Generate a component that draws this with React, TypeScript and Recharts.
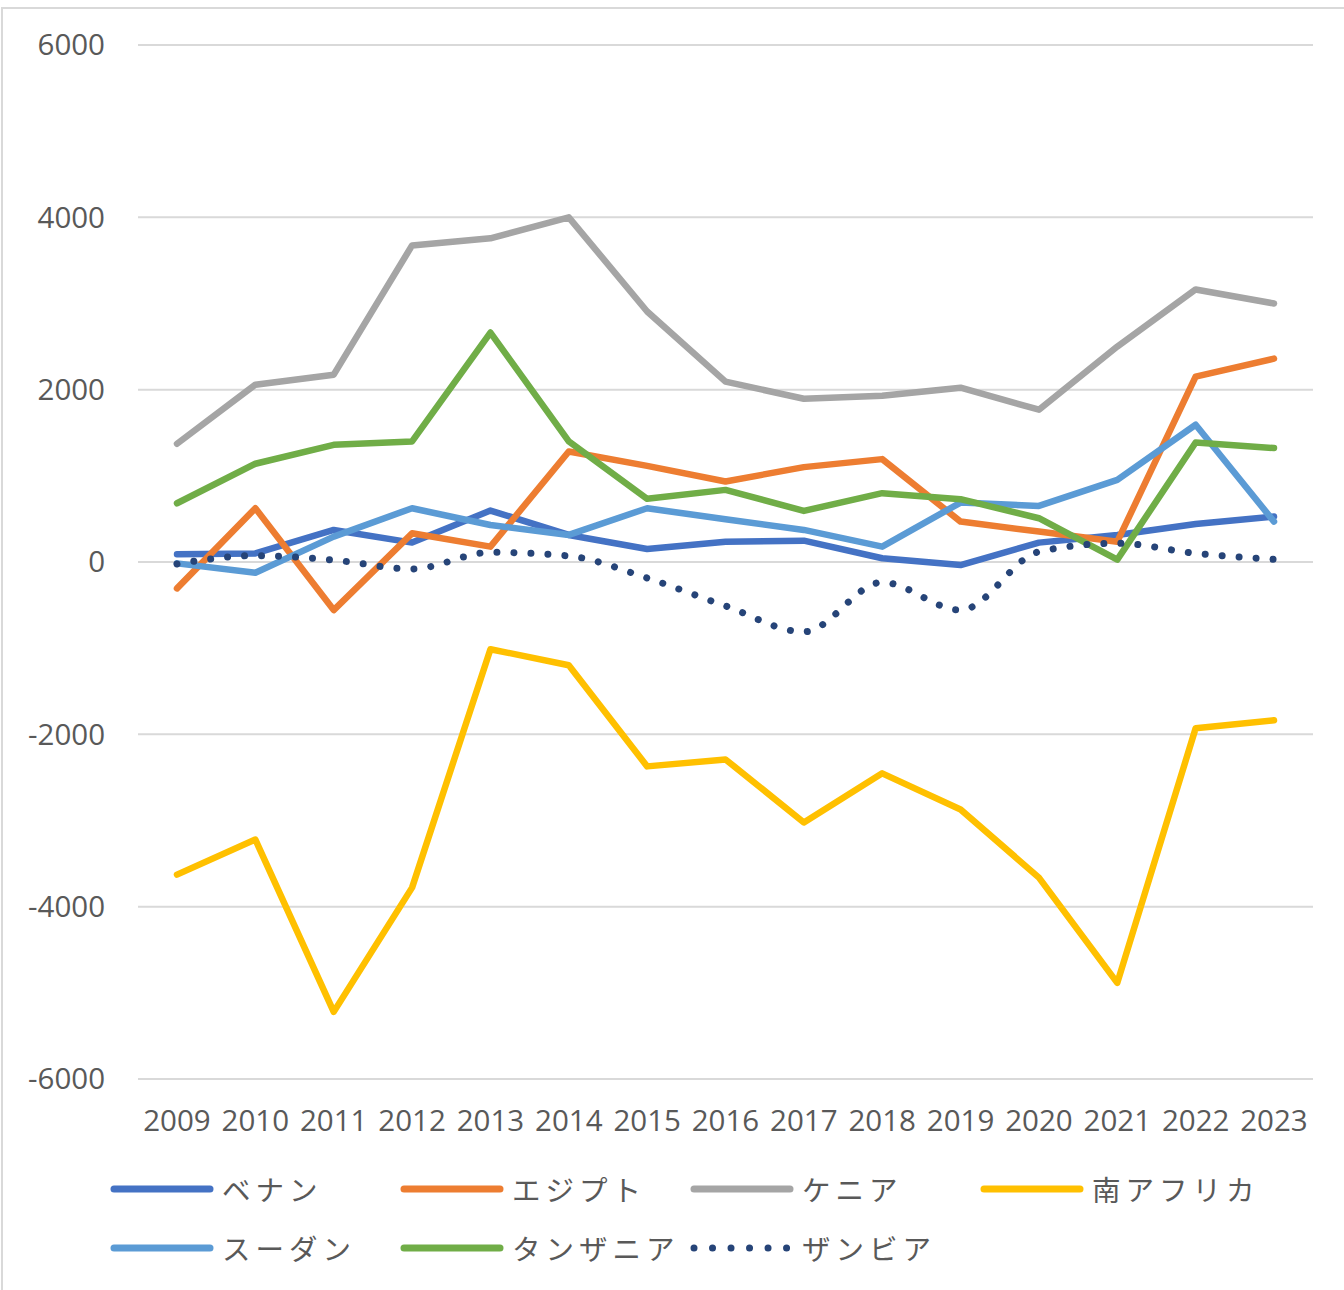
import React from 'react';
import { LineChart, Line, XAxis, YAxis, CartesianGrid, Legend } from 'recharts';

const years = ['2009','2010','2011','2012','2013','2014','2015','2016','2017','2018','2019','2020','2021','2022','2023'];
const benin = [90, 100, 372, 225, 597, 314, 151, 236, 248, 43, -35, 225, 314, 442, 527];
const egypt = [-306, 624, -558, 333, 178, 1283, 1116, 934, 1101, 1194, 469, 353, 236, 2151, 2360];
const kenya = [1372, 2058, 2174, 3674, 3756, 4000, 2907, 2093, 1895, 1930, 2023, 1767, 2500, 3163, 3000];
const southAfrica = [-3628, -3221, -5221, -3779, -1012, -1198, -2372, -2291, -3023, -2453, -2872, -3663, -4884, -1930, -1837];
const sudan = [-16, -124, 295, 624, 430, 314, 624, 496, 372, 178, 690, 651, 953, 1593, 469];
const tanzania = [682, 1140, 1360, 1399, 2663, 1399, 733, 837, 593, 799, 729, 508, 27, 1387, 1322];
const zambia = [-23, 74, 23, -81, 112, 70, -186, -510, -810, -236, -558, 120, 217, 101, 31];
const yTicks = [-6000, -4000, -2000, 0, 2000, 4000, 6000];

const seriesNames = ['ベナン', 'エジプト', 'ケニア', '南アフリカ', 'スーダン', 'タンザニア', 'ザンビア'];
const seriesKeys = ['benin', 'egypt', 'kenya', 'southAfrica', 'sudan', 'tanzania', 'zambia'];
const seriesColors = ['#4472C4', '#ED7D31', '#A5A5A5', '#FFC000', '#5B9BD5', '#70AD47', '#264478'];

const data = years.map((y, i) => ({
  year: y,
  benin: benin[i],
  egypt: egypt[i],
  kenya: kenya[i],
  southAfrica: southAfrica[i],
  sudan: sudan[i],
  tanzania: tanzania[i],
  zambia: zambia[i],
}));

const FONT_NUM = '"Open Sans", "Noto Sans", sans-serif';
const FONT_JP = '"Noto Sans CJK JP", "Noto Sans", sans-serif';
const TEXT = '#595959';

const legendCols = [110, 400, 690, 980];
const legendRows = [1189, 1248];

function LegendContent() {
  return (
    <div style={{ position: 'relative', width: 1344, height: 130 }}>
      {seriesNames.map((name, i) => {
        const col = i < 4 ? i : i - 4;
        const row = i < 4 ? 0 : 1;
        const left = legendCols[col];
        const top = legendRows[row] - 1160;
        const dotted = seriesKeys[i] === 'zambia';
        return (
          <div key={name} style={{ position: 'absolute', left, top: top - 20, height: 40, display: 'flex', alignItems: 'center' }}>
            <svg width={104} height={12} style={{ display: 'block' }}>
              {dotted ? (
                <line x1={4} y1={6} x2={100} y2={6} stroke={seriesColors[i]} strokeWidth={7} strokeLinecap="round" strokeDasharray="0.01 18.5" />
              ) : (
                <line x1={4} y1={6} x2={100} y2={6} stroke={seriesColors[i]} strokeWidth={7} strokeLinecap="round" />
              )}
            </svg>
            <span style={{ marginLeft: 8, fontFamily: FONT_JP, fontSize: 28.5, color: TEXT, letterSpacing: 5, lineHeight: '40px', whiteSpace: 'nowrap' }}>{name}</span>
          </div>
        );
      })}
    </div>
  );
}

export default function App() {
  return (
    <div style={{ position: 'absolute', left: 0, top: 0, width: 1344, height: 1290, background: '#fff', overflow: 'hidden' }}>
      <div style={{ position: 'absolute', left: 1, top: 7, width: 1400, height: 1400, borderTop: '2px solid #D9D9D9', borderLeft: '2px solid #D9D9D9' }} />
      <LineChart
        width={1344}
        height={1290}
        data={data}
        margin={{ top: 45, right: 31, left: 0, bottom: 151 }}
        style={{ position: 'absolute', left: 0, top: 0 }}
      >
        <CartesianGrid vertical={false} stroke="#D9D9D9" strokeWidth={2} />
        <XAxis
          dataKey="year"
          axisLine={false}
          tickLine={false}
          tickSize={0}
          tickMargin={31}
          height={60}
          interval={0}
          padding={{ left: 39, right: 39 }}
          tick={{ fontFamily: FONT_NUM, fontSize: 29.5, fill: TEXT }}
        />
        <YAxis
          domain={[-6000, 6000]}
          ticks={yTicks}
          axisLine={false}
          tickLine={false}
          tickSize={0}
          tickMargin={33}
          width={138}
          interval={0}
          tick={{ fontFamily: FONT_NUM, fontSize: 29.5, fill: TEXT }}
        />
        <Legend
          layout="vertical"
          align="center"
          verticalAlign="middle"
          wrapperStyle={{ left: 0, top: 1160, width: 1344, height: 130 }}
          content={() => <LegendContent />}
        />
        {seriesKeys.map((k, i) => (
          <Line
            key={k}
            dataKey={k}
            name={seriesNames[i]}
            type={k === 'zambia' ? 'monotone' : 'linear'}
            stroke={seriesColors[i]}
            strokeWidth={k === 'zambia' ? 7 : 6.5}
            strokeLinecap="round"
            strokeLinejoin="round"
            strokeDasharray={k === 'zambia' ? '0.01 17' : undefined}
            dot={false}
            activeDot={false}
            isAnimationActive={false}
          />
        ))}
      </LineChart>
    </div>
  );
}
